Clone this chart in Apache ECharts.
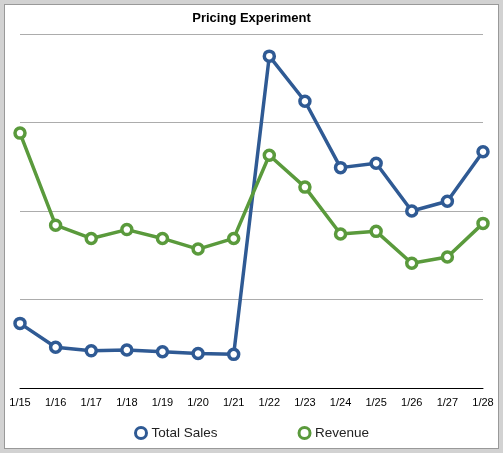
<!DOCTYPE html>
<html>
<head>
<meta charset="utf-8">
<script src="https://cdn.jsdelivr.net/npm/echarts@6/dist/echarts.min.js"></script>
<style>
  html, body { margin: 0; padding: 0; background: #d2d2d2; width: 503px; height: 453px; overflow: hidden; }
  #main { position: absolute; left: 4px; top: 4px; width: 493px; height: 443px; background: #fff; border: 1px solid #999; }
</style>
</head>
<body>
<div id="main"></div>
<script>
var days = ['1/15', '1/16', '1/17', '1/18', '1/19', '1/20', '1/21', '1/22', '1/23', '1/24', '1/25', '1/26', '1/27', '1/28'];
var totalSales = [0.73, 0.46, 0.42, 0.43, 0.41, 0.39, 0.38, 3.75, 3.24, 2.49, 2.54, 2.00, 2.11, 2.67];
var revenue = [2.88, 1.84, 1.69, 1.79, 1.69, 1.57, 1.69, 2.63, 2.27, 1.74, 1.77, 1.41, 1.48, 1.86];

var blue = '#2f5a94';
var green = '#5a9a3c';

var myChart = echarts.init(document.getElementById('main'));

var option = {
    animation: false,
    textStyle: { fontFamily: 'Liberation Sans, Arial, sans-serif' },
    title: {
        text: 'Pricing Experiment',
        left: 'center',
        top: 2,
        textStyle: { fontSize: 13, fontWeight: 'bold', color: '#000' }
    },
    legend: {
        bottom: 3,
        left: 124,
        icon: 'circle',
        itemWidth: 11,
        itemHeight: 11,
        itemGap: 80,
        textStyle: { fontSize: 13.5, color: '#222' },
        data: [
            { name: 'Total Sales', itemStyle: { color: '#fff', borderColor: blue, borderWidth: 3 } },
            { name: 'Revenue', itemStyle: { color: '#fff', borderColor: green, borderWidth: 3 } }
        ]
    },
    grid: { left: 15, right: 15, top: 29, bottom: 60 },
    xAxis: {
        type: 'category',
        boundaryGap: false,
        data: days,
        axisLine: { lineStyle: { color: '#000', width: 1 } },
        axisTick: { show: false },
        axisLabel: { color: '#000', fontSize: 11, margin: 9, interval: 0 }
    },
    yAxis: {
        type: 'value',
        min: 0,
        max: 4,
        interval: 1,
        axisLine: { show: false },
        axisTick: { show: false },
        axisLabel: { show: false },
        splitLine: { lineStyle: { color: '#acacac', width: 1 } }
    },
    series: [
        {
            name: 'Total Sales',
            type: 'line',
            data: totalSales,
            symbol: 'circle',
            symbolSize: 10,
            lineStyle: { width: 3.5, color: blue },
            itemStyle: { color: '#fff', borderColor: blue, borderWidth: 3.5 }
        },
        {
            name: 'Revenue',
            type: 'line',
            data: revenue,
            symbol: 'circle',
            symbolSize: 10,
            lineStyle: { width: 3.5, color: green },
            itemStyle: { color: '#fff', borderColor: green, borderWidth: 3.5 }
        }
    ]
};

myChart.setOption(option);
</script>
</body>
</html>
